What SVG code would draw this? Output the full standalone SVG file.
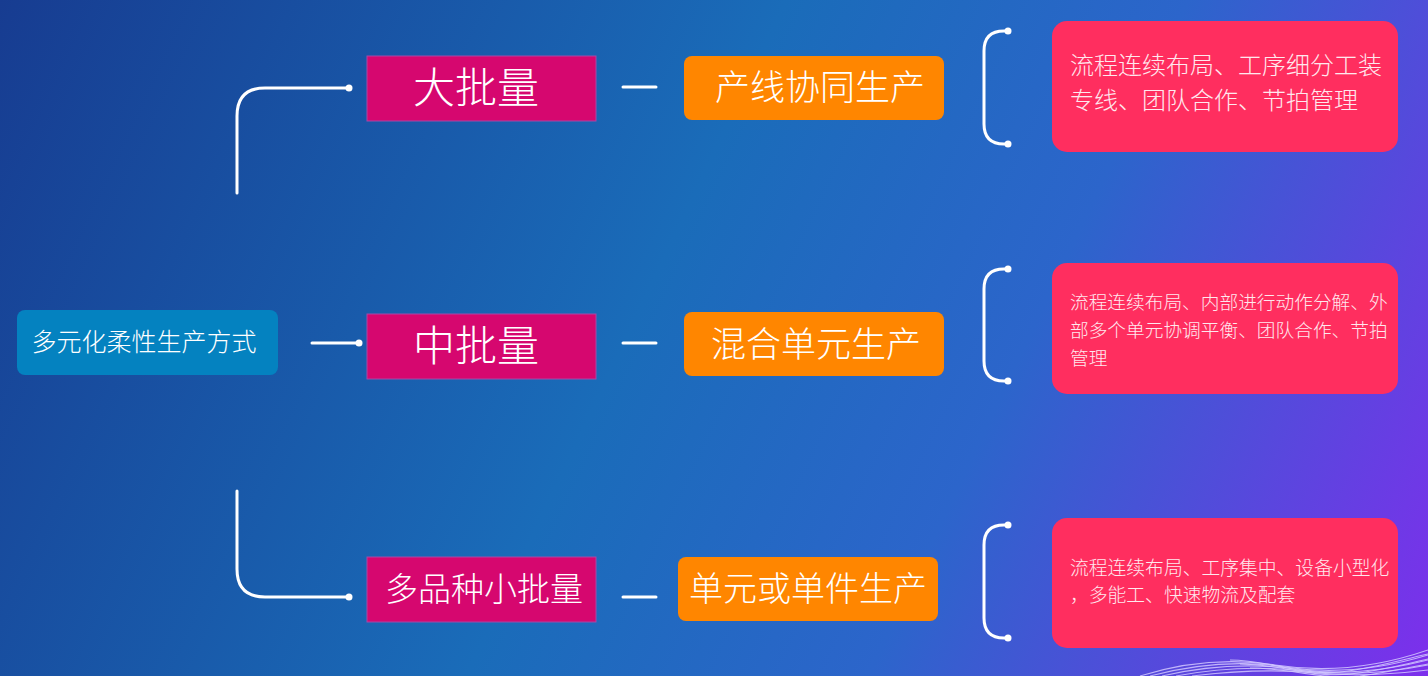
<svg xmlns="http://www.w3.org/2000/svg" width="1428" height="676" viewBox="0 0 1428 676">
<defs>
<linearGradient id="bg" gradientUnits="userSpaceOnUse" x1="0" y1="0" x2="1428" y2="676">
<stop offset="0" stop-color="#173c91"/>
<stop offset="0.45" stop-color="#1a6cb9"/>
<stop offset="0.68" stop-color="#2c65cb"/>
<stop offset="1" stop-color="#7d2fec"/>
</linearGradient>
<style>
.cn{font-family:"Noto Sans CJK SC","Noto Sans",sans-serif;fill:#ffffff;font-weight:300;}
.root{fill:#0482c0;}
.mag{fill:#d6076f;stroke:#a54aa8;stroke-width:1;}
.org{fill:#ff8600;}
.red{fill:#ff2e5f;}
.ln{fill:none;stroke:#ffffff;stroke-width:3;stroke-linecap:round;}
.dot{fill:#ffffff;}
.mesh{fill:none;stroke:#d2c8ff;stroke-width:1.1;opacity:0.85;}
.rt{fill:#ffe8ee;}
</style>
</defs>
<rect x="0" y="0" width="1428" height="676" fill="url(#bg)"/>

<g id="mesh">
<path class="mesh" d="M1140,676 C1185,662 1230,658 1275,665 C1320,672 1370,670 1428,650"/>
<path class="mesh" d="M1150,676 C1195,664 1240,660 1285,667 C1330,674 1375,671 1428,655"/>
<path class="mesh" d="M1162,676 C1205,666 1250,663 1295,669 C1340,675 1380,672 1428,660"/>
<path class="mesh" d="M1176,676 C1218,668 1262,666 1305,671 C1350,676 1388,673 1428,665"/>
<path class="mesh" d="M1192,676 C1232,671 1275,669 1318,673 C1360,677 1395,674 1428,670"/>
<path class="mesh" d="M1230,660 C1270,660 1300,676 1340,672 C1375,668 1400,660 1428,654"/>
<path class="mesh" d="M1240,664 C1280,664 1310,678 1350,674 C1385,670 1405,664 1428,659"/>
<path class="mesh" d="M1250,668 C1290,668 1320,680 1360,676 C1390,672 1410,667 1428,664"/>
</g>

<g id="connectors">
<path class="ln" d="M237,193 V116 Q237,88 265,88 H348"/>
<circle class="dot" cx="349" cy="88" r="3.5"/>
<path class="ln" d="M312,343 H358"/>
<circle class="dot" cx="359" cy="343" r="3.5"/>
<path class="ln" d="M237,491 V569 Q237,597 265,597 H348"/>
<circle class="dot" cx="349" cy="597" r="3.5"/>
<path class="ln" d="M623,87 H656"/>
<path class="ln" d="M623,343 H656"/>
<path class="ln" d="M623,597 H656"/>
<path class="ln" d="M1008,31 H1004 Q984,31 984,51 V124 Q984,144 1004,144 H1008"/>
<circle class="dot" cx="1008" cy="31" r="3.5"/>
<circle class="dot" cx="1008" cy="144" r="3.5"/>
<path class="ln" d="M1008,269 H1004 Q984,269 984,289 V361 Q984,381 1004,381 H1008"/>
<circle class="dot" cx="1008" cy="269" r="3.5"/>
<circle class="dot" cx="1008" cy="381" r="3.5"/>
<path class="ln" d="M1008,525 H1004 Q984,525 984,545 V618 Q984,638 1004,638 H1008"/>
<circle class="dot" cx="1008" cy="525" r="3.5"/>
<circle class="dot" cx="1008" cy="638" r="3.5"/>
</g>

<g id="root">
<rect class="root" x="17" y="310" width="261" height="65" rx="8"/>
<text class="cn" x="144" y="351" font-size="25" text-anchor="middle">多元化柔性生产方式</text>
</g>

<g id="large">
<rect class="mag" x="367" y="56" width="229" height="65"/>
<text class="cn" x="476" y="103" font-size="42" text-anchor="middle">大批量</text>
</g>
<g id="medium">
<rect class="mag" x="367" y="314" width="229" height="65"/>
<text class="cn" x="476" y="361" font-size="42" text-anchor="middle">中批量</text>
</g>
<g id="small">
<rect class="mag" x="367" y="557" width="229" height="65"/>
<text class="cn" x="484" y="601" font-size="33" text-anchor="middle">多品种小批量</text>
</g>

<g id="line-prod">
<rect class="org" x="684" y="56" width="260" height="64" rx="8"/>
<text class="cn" x="820" y="100" font-size="35" text-anchor="middle">产线协同生产</text>
</g>
<g id="cell-prod">
<rect class="org" x="684" y="312" width="260" height="64" rx="8"/>
<text class="cn" x="816" y="357" font-size="35" text-anchor="middle">混合单元生产</text>
</g>
<g id="single-prod">
<rect class="org" x="678" y="557" width="260" height="64" rx="8"/>
<text class="cn" x="808" y="601" font-size="34" text-anchor="middle">单元或单件生产</text>
</g>

<g id="desc-large">
<rect class="red" x="1052" y="21" width="346" height="131" rx="15"/>
<text class="cn rt" x="1070" y="74" font-size="24">流程连续布局、工序细分工装</text>
<text class="cn rt" x="1070" y="109" font-size="24">专线、团队合作、节拍管理</text>
</g>
<g id="desc-medium">
<rect class="red" x="1052" y="263" width="346" height="131" rx="15"/>
<text class="cn rt" x="1070" y="309" font-size="18.7">流程连续布局、内部进行动作分解、外</text>
<text class="cn rt" x="1070" y="337" font-size="18.7">部多个单元协调平衡、团队合作、节拍</text>
<text class="cn rt" x="1070" y="365" font-size="18.7">管理</text>
</g>
<g id="desc-small">
<rect class="red" x="1052" y="518" width="346" height="130" rx="15"/>
<text class="cn rt" x="1070" y="575" font-size="18.8">流程连续布局、工序集中、设备小型化</text>
<text class="cn rt" x="1070" y="602" font-size="18.8">，多能工、快速物流及配套</text>
</g>
</svg>
